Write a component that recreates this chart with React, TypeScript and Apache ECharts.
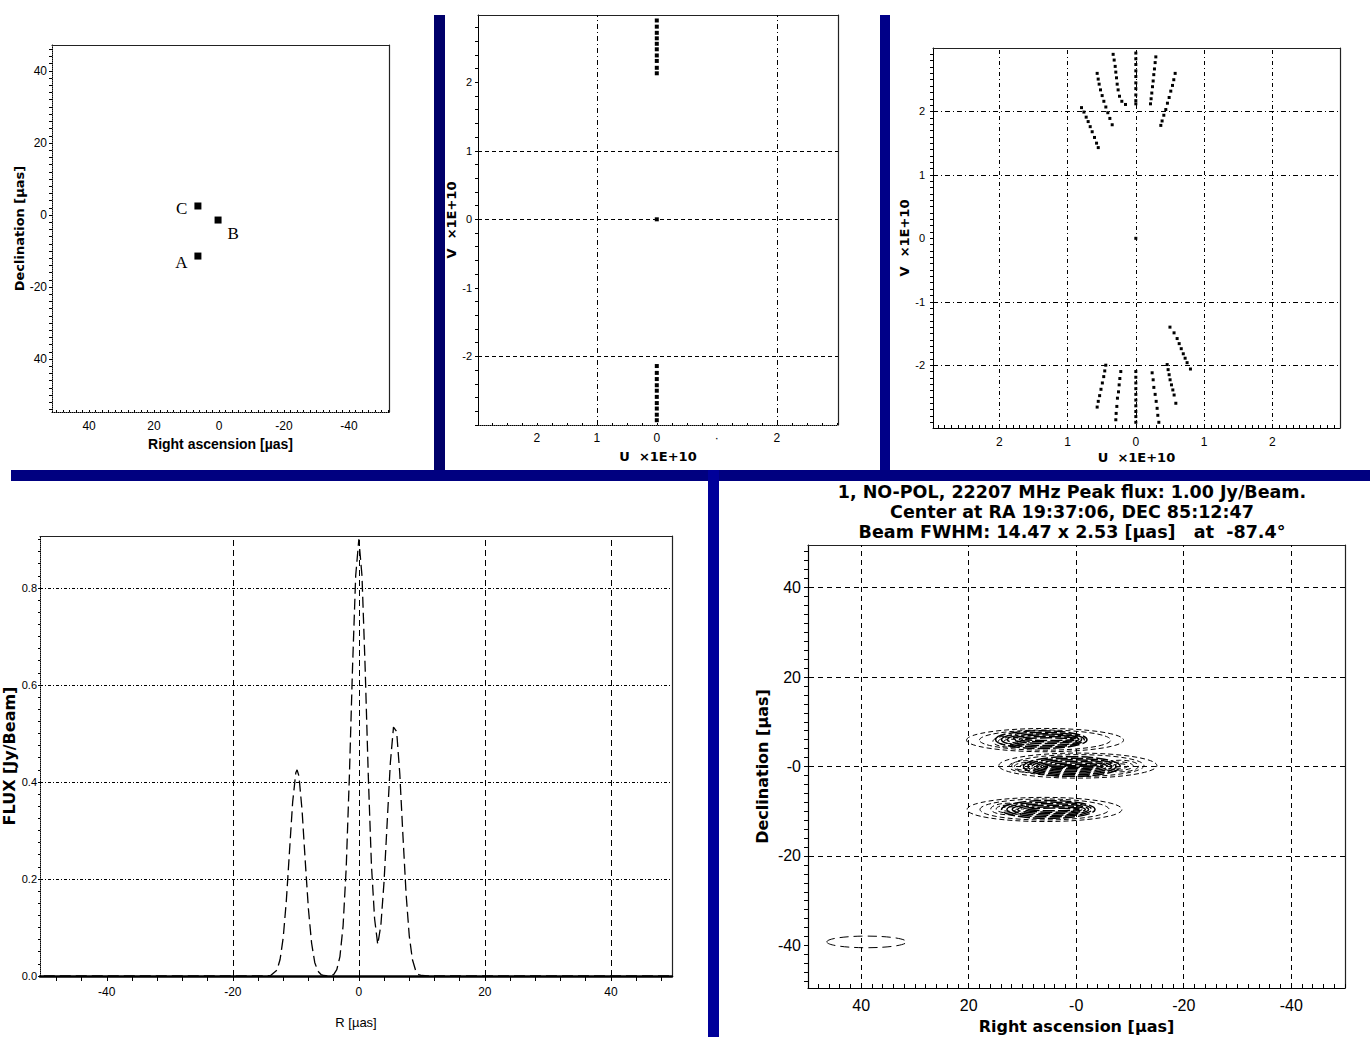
import React, { useEffect, useRef } from "react";
import * as echarts from "echarts";

// ---------------- data ----------------
// Panel 1: model components (RA, Dec in µas)
const MODEL_LABELS = ["C", "B", "A"];
const MODEL_RA = [6.5, 0.3, 6.5];
const MODEL_DEC = [2.5, -1.4, -11.4];

// Panel 2: snapshot uv coverage (U, V ×1E+10)
const SNAPSHOT_UV = [
  [0, 0],
  [0, 2.9], [0, 2.81], [0, 2.72], [0, 2.64], [0, 2.56], [0, 2.48], [0, 2.39], [0, 2.31], [0, 2.21], [0, 2.13],
  [0, -2.14], [0, -2.24], [0, -2.33], [0, -2.42], [0, -2.5], [0, -2.59], [0, -2.68], [0, -2.76], [0, -2.85], [0, -2.93],
];

// Panel 3: uv tracks
const TRACK_UA = [[-0.795, 2.06], [-0.76, 1.99], [-0.727, 1.91], [-0.698, 1.84], [-0.668, 1.76], [-0.639, 1.68], [-0.605, 1.59], [-0.575, 1.5], [-0.55, 1.43]];
const TRACK_UB = [[-0.566, 2.6], [-0.551, 2.51], [-0.537, 2.43], [-0.517, 2.34], [-0.493, 2.25], [-0.468, 2.16], [-0.439, 2.07], [-0.41, 1.98], [-0.38, 1.89], [-0.346, 1.79]];
const TRACK_UC = [[-0.332, 2.9], [-0.317, 2.81], [-0.302, 2.71], [-0.293, 2.62], [-0.283, 2.53], [-0.273, 2.43], [-0.259, 2.34], [-0.239, 2.24], [-0.205, 2.16], [-0.151, 2.11]];
const TRACK_UD = [[0, 2.92], [0, 2.83], [0, 2.74], [0, 2.64], [0, 2.55], [0, 2.45], [0, 2.36], [0, 2.26], [0, 2.17], [0, 2.12]];
const TRACK_UE = [[0.293, 2.86], [0.283, 2.77], [0.273, 2.67], [0.263, 2.58], [0.254, 2.48], [0.244, 2.39], [0.234, 2.29], [0.224, 2.2], [0.215, 2.12]];
const TRACK_UF = [[0.576, 2.6], [0.556, 2.5], [0.537, 2.41], [0.512, 2.32], [0.488, 2.22], [0.463, 2.13], [0.439, 2.03], [0.41, 1.94], [0.385, 1.85], [0.366, 1.78]];
const TRACK_CENTER = [[0, 0]];
const TRACK_LA = [[0.5, -1.4], [0.56, -1.49], [0.605, -1.58], [0.635, -1.66], [0.665, -1.74], [0.695, -1.82], [0.722, -1.89], [0.751, -1.96], [0.8, -2.06]];
const TRACK_LB = [[0.459, -1.99], [0.473, -2.07], [0.488, -2.15], [0.502, -2.23], [0.522, -2.31], [0.542, -2.39], [0.561, -2.47], [0.586, -2.6]];
const TRACK_LC = [[0.239, -2.12], [0.254, -2.23], [0.264, -2.35], [0.283, -2.46], [0.298, -2.57], [0.312, -2.68], [0.322, -2.79], [0.337, -2.9]];
const TRACK_LD = [[0, -2.1], [0, -2.19], [0, -2.28], [0, -2.37], [0, -2.46], [0, -2.55], [0, -2.64], [0, -2.73], [0, -2.81], [0, -2.9]];
const TRACK_LE = [[-0.22, -2.1], [-0.234, -2.21], [-0.244, -2.31], [-0.254, -2.42], [-0.269, -2.52], [-0.278, -2.65], [-0.288, -2.76], [-0.293, -2.86]];
const TRACK_LF = [[-0.44, -2.0], [-0.455, -2.09], [-0.47, -2.18], [-0.49, -2.28], [-0.51, -2.38], [-0.53, -2.48], [-0.55, -2.57], [-0.566, -2.66]];

// Panel 4: radial flux profile [R µas, flux Jy/Beam]
const PROFILE = [
  [-50, 0], [-15, 0], [-14, 0.001], [-13, 0.012], [-12.5, 0.034], [-12, 0.079], [-11.5, 0.156], [-11, 0.258],
  [-10.5, 0.359], [-10, 0.419], [-9.8, 0.425], [-9.5, 0.412], [-9, 0.34], [-8.5, 0.236], [-8, 0.138], [-7.5, 0.068],
  [-7, 0.028], [-6.5, 0.01], [-6, 0.003], [-5.5, 0.001], [-5, 0], [-4.5, 0.001], [-4, 0.003], [-3.5, 0.013],
  [-3, 0.04], [-2.5, 0.103], [-2, 0.224], [-1.5, 0.412], [-1, 0.636], [-0.5, 0.825], [0, 0.9], [0.5, 0.825],
  [1, 0.636], [1.5, 0.413], [2, 0.229], [2.5, 0.118], [3, 0.065], [3.5, 0.105], [4, 0.194], [4.5, 0.317],
  [5, 0.439], [5.5, 0.513], [6, 0.504], [6.5, 0.417], [7, 0.289], [7.5, 0.169], [8, 0.083], [8.5, 0.034],
  [9, 0.012], [9.5, 0.003], [10, 0.001], [11, 0], [50, 0],
];

// Panel 5: contour ellipses [RA, Dec, semi-axis RA, semi-axis Dec]
const CONTOURS_DASHED = [
  [5.8, 5.9, 14.6, 2.6], [5.8, 5.9, 12.2, 2.25],
  [12.1, 5.6, 3.4, 1.3], [12.1, 5.6, 2.4, 0.9], [12.1, 5.6, 1.4, 0.5],
  [-0.3, 0.2, 14.7, 2.8], [-0.3, 0.2, 12.3, 2.45],
  [9.1, 0.0, 3.4, 1.3], [9.1, 0.0, 2.4, 0.9], [9.1, 0.0, 1.4, 0.5],
  [-8.2, 0.1, 3.4, 1.3], [-8.2, 0.1, 2.4, 0.9], [-8.2, 0.1, 1.4, 0.5],
  [5.9, -9.6, 14.4, 2.7], [5.9, -9.6, 12.0, 2.35],
  [12.5, -9.5, 3.4, 1.3], [12.5, -9.5, 2.4, 0.9], [12.5, -9.5, 1.4, 0.5],
];
const CONTOURS_SOLID = [
  [6.5, 6.0, 8.5, 2.0], [6.2, 6.0, 7.7, 1.65], [5.9, 6.0, 6.9, 1.3], [5.6, 6.1, 6.1, 0.95], [5.3, 6.1, 5.3, 0.6], [5.0, 6.1, 4.5, 0.3],
  [0.8, 0.0, 9.0, 2.2], [0.8, 0.0, 8.2, 1.85], [0.8, 0.0, 7.4, 1.5], [0.8, 0.0, 6.6, 1.15], [0.8, 0.0, 5.8, 0.8], [0.8, 0.0, 5.0, 0.45], [0.8, 0.0, 4.2, 0.15],
  [5.2, -9.6, 8.7, 2.0], [5.0, -9.6, 7.9, 1.65], [4.8, -9.6, 7.1, 1.3], [4.6, -9.6, 6.3, 0.95], [4.4, -9.6, 5.5, 0.6], [4.2, -9.6, 4.7, 0.3],
];
const BEAM = [[39, -39.2, 7.4, 1.3]];

const TITLE_LINES = [
  "1, NO-POL, 22207 MHz Peak flux: 1.00 Jy/Beam.",
  "Center at RA 19:37:06, DEC 85:12:47",
  "Beam FWHM: 14.47 x 2.53 [µas]   at  -87.4°",
];

// tick labels
const P1_X_TICKS = [40, 20, 0, -20, -40];
const P1_X_LABELS = ["40", "20", "0", "-20", "-40"];
const P1_Y_TICKS = [40, 20, 0, -20, -40];
const P1_Y_LABELS = ["40", "20", "0", "-20", "40"];
const UV_X_TICKS = [-2, -1, 0, 1, 2];
const P2_X_LABELS = ["2", "1", "0", "·", "2"];
const UV_Y_TICKS = [2, 1, 0, -1, -2];
const P2_Y_LABELS = ["2", "1", "0", "-1", "-2"];
const P3_X_LABELS = ["2", "1", "0", "1", "2"];
const P3_Y_LABELS = ["2", "1", "0", "-1", "-2"];
const P4_X_TICKS = [-40, -20, 0, 20, 40];
const P4_X_LABELS = ["-40", "-20", "0", "20", "40"];
const P4_Y_TICKS = [0.8, 0.6, 0.4, 0.2, 0];
const P4_Y_LABELS = ["0.8", "0.6", "0.4", "0.2", "0.0"];
const P5_X_TICKS = [40, 20, 0, -20, -40];
const P5_X_LABELS = ["40", "20", "-0", "-20", "-40"];
const P5_Y_TICKS = [40, 20, 0, -20, -40];
const P5_Y_LABELS = ["40", "20", "-0", "-20", "-40"];

// grid lines
const P2_GRID_U = [-1, 2];
const P2_GRID_V = [1, 0, -2];
const P3_GRID_U = [-2, -1, 0, 1, 2];
const P3_GRID_V = [2, 1, -1, -2];
const P4_GRID_R = [-20, 0, 20, 40];
const P4_GRID_F = [0.8, 0.6, 0.4, 0.2];
const P5_GRID_RA = [40, 20, 0, -20, -40];
const P5_GRID_DEC = [40, 20, 0, -20];

// ---------------- helpers ----------------
const FONT = '"Liberation Sans", Arial, sans-serif';
const NARROW = '"Liberation Sans Narrow", "Liberation Sans", Arial, sans-serif';
const WIDE = '"DejaVu Sans", Verdana, sans-serif';

function steps(a: number, b: number, s: number) {
  const out: number[] = [];
  for (let v = a; v <= b + 1e-9; v += s) out.push(+v.toFixed(4));
  return out;
}

function labelFmt(vals: number[], texts: string[]) {
  return (v: number) => {
    for (let i = 0; i < vals.length; i++) if (Math.abs(vals[i] - v) < 1e-6) return texts[i];
    return "";
  };
}

function mainAxis(kind: "x" | "y", gridIndex: number, min: number, max: number, o: any) {
  return {
    type: "value",
    gridIndex,
    min,
    max,
    inverse: !!o.inverse,
    position: kind === "x" ? "bottom" : "left",
    name: o.name,
    nameLocation: "middle",
    nameGap: o.nameGap,
    nameTextStyle: Object.assign({ color: "#000", fontFamily: FONT, fontWeight: "bold", fontSize: 14 }, o.nameStyle || {}),
    splitLine: { show: false },
    axisLine: { show: true, onZero: false, lineStyle: { color: "#000", width: o.lineWidth ?? 1, type: o.lineType ?? "solid" } },
    axisTick: { show: true, customValues: o.ticks, length: o.tickLen ?? 3, inside: !!o.tickInside, lineStyle: { color: "#000", width: 1 } },
    axisLabel: {
      show: true,
      customValues: o.labelVals,
      formatter: labelFmt(o.labelVals, o.labels),
      margin: o.margin,
      color: "#000",
      fontSize: o.fontSize ?? 12,
      fontFamily: o.fontFamily ?? FONT,
    },
  };
}

function frameAxis(kind: "x" | "y", gridIndex: number, min: number, max: number, inverse = false) {
  return {
    type: "value",
    gridIndex,
    min,
    max,
    inverse,
    position: kind === "x" ? "top" : "right",
    axisLine: { show: true, onZero: false, lineStyle: { color: "#222", width: 1.2 } },
    axisTick: { show: false },
    axisLabel: { show: false },
    splitLine: { show: false },
  };
}

function gridLines(xs: number[], ys: number[], xDash: number[], yDash: number[]) {
  return {
    silent: true,
    symbol: ["none", "none"],
    label: { show: false },
    animation: false,
    lineStyle: { color: "#000", width: 1 },
    data: [
      ...xs.map((v) => ({ xAxis: v, lineStyle: { color: "#000", width: 1, type: xDash } })),
      ...ys.map((v) => ({ yAxis: v, lineStyle: { color: "#000", width: 1, type: yDash } })),
    ],
  };
}

function ellipseRenderer(lineDash: any, lineWidth: number) {
  return (params: any, api: any) => {
    const c = api.coord([api.value(0), api.value(1)]);
    const s = api.size([api.value(2), api.value(3)]);
    return {
      type: "ellipse",
      shape: { cx: c[0], cy: c[1], rx: s[0], ry: s[1] },
      style: { fill: "none", stroke: "#000", lineWidth, lineDash },
    };
  };
}

// ranges
const P1 = { xmin: -52.3, xmax: 51.4, ymin: -54.7, ymax: 47.2 };
const P2 = { xmin: -2.98, xmax: 3.02, ymin: -3.0, ymax: 2.98 };
const P3 = { xmin: -2.97, xmax: 2.99, ymin: -2.99, ymax: 3.0 };
const P4 = { xmin: -50.6, xmax: 49.7, ymin: 0, ymax: 0.907 };
const P5 = { xmin: -50, xmax: 49.9, ymin: -49.5, ymax: 49.5 };

function buildOption() {
  const grids = [
    { left: 52, top: 45, width: 337, height: 367 },
    { left: 478, top: 15, width: 360, height: 410 },
    { left: 933, top: 48, width: 407, height: 380 },
    { left: 40, top: 536, width: 632, height: 440 },
    { left: 808, top: 545, width: 537, height: 443 },
  ].map((g) => Object.assign({ containLabel: false, show: false }, g));

  const xAxes = [
    mainAxis("x", 0, P1.xmin, P1.xmax, {
      inverse: true, name: "Right ascension [µas]", nameGap: 25, nameStyle: { fontSize: 14, fontFamily: NARROW },
      ticks: steps(-52, 50, 2), tickInside: true, tickLen: 2, labelVals: P1_X_TICKS, labels: P1_X_LABELS, margin: 8, lineType: "dotted",
    }),
    mainAxis("x", 1, P2.xmin, P2.xmax, {
      name: "U  ×1E+10", nameGap: 25, nameStyle: { fontSize: 13, fontFamily: WIDE },
      ticks: steps(-2.75, 3, 0.25), tickInside: true, tickLen: 2, labelVals: UV_X_TICKS, labels: P2_X_LABELS, margin: 7, lineType: "dotted",
    }),
    mainAxis("x", 2, P3.xmin, P3.xmax, {
      name: "U  ×1E+10", nameGap: 23, nameStyle: { fontSize: 13, fontFamily: WIDE },
      ticks: steps(-2.9, 2.9, 0.1), tickInside: true, tickLen: 3, labelVals: UV_X_TICKS, labels: P3_X_LABELS, margin: 8,
    }),
    mainAxis("x", 3, P4.xmin, P4.xmax, {
      name: "R [µas]", nameGap: 40, nameStyle: { fontSize: 13, fontWeight: "normal", fontFamily: NARROW },
      ticks: steps(-48, 48, 4), tickLen: 5, labelVals: P4_X_TICKS, labels: P4_X_LABELS, margin: 10, lineWidth: 2.5, fontFamily: NARROW,
    }),
    mainAxis("x", 4, P5.xmin, P5.xmax, {
      inverse: true, name: "Right ascension [µas]", nameGap: 30, nameStyle: { fontSize: 16, fontFamily: WIDE },
      ticks: steps(-50, 48, 2), tickInside: true, tickLen: 4, labelVals: P5_X_TICKS, labels: P5_X_LABELS, margin: 9, fontSize: 16, lineWidth: 1.2,
    }),
    frameAxis("x", 0, P1.xmin, P1.xmax, true),
    frameAxis("x", 1, P2.xmin, P2.xmax),
    frameAxis("x", 2, P3.xmin, P3.xmax),
    frameAxis("x", 3, P4.xmin, P4.xmax),
    frameAxis("x", 4, P5.xmin, P5.xmax, true),
  ];

  const yAxes = [
    mainAxis("y", 0, P1.ymin, P1.ymax, {
      name: "Declination [µas]", nameGap: 26, nameStyle: { fontSize: 13, fontFamily: WIDE },
      ticks: steps(-54, 46, 2), tickLen: 3, labelVals: P1_Y_TICKS, labels: P1_Y_LABELS, margin: 5, lineType: "dotted", fontFamily: NARROW,
    }),
    mainAxis("y", 1, P2.ymin, P2.ymax, {
      name: "V  ×1E+10", nameGap: 18, nameStyle: { fontSize: 13, fontFamily: WIDE },
      ticks: steps(-3, 2.8, 0.2), tickLen: 3, labelVals: UV_Y_TICKS, labels: P2_Y_LABELS, margin: 6, fontSize: 11,
    }),
    mainAxis("y", 2, P3.ymin, P3.ymax, {
      name: "V  ×1E+10", nameGap: 21, nameStyle: { fontSize: 13, fontFamily: WIDE },
      ticks: steps(-2.9, 2.9, 0.1), tickLen: 3, labelVals: UV_Y_TICKS, labels: P3_Y_LABELS, margin: 8, fontSize: 11,
    }),
    mainAxis("y", 3, P4.ymin, P4.ymax, {
      name: "FLUX [Jy/Beam]", nameGap: 13, nameStyle: { fontSize: 16, fontFamily: WIDE },
      ticks: steps(0, 0.9, 0.025), tickLen: 2, labelVals: P4_Y_TICKS, labels: P4_Y_LABELS, margin: 3, lineType: "dotted", fontFamily: NARROW, fontSize: 11,
    }),
    mainAxis("y", 4, P5.ymin, P5.ymax, {
      name: "Declination [µas]", nameGap: 38, nameStyle: { fontSize: 16, fontFamily: WIDE },
      ticks: steps(-48, 48, 2), tickLen: 4, labelVals: P5_Y_TICKS, labels: P5_Y_LABELS, margin: 7, fontSize: 16, lineWidth: 1.2,
    }),
    frameAxis("y", 0, P1.ymin, P1.ymax),
    frameAxis("y", 1, P2.ymin, P2.ymax),
    frameAxis("y", 2, P3.ymin, P3.ymax),
    frameAxis("y", 3, P4.ymin, P4.ymax),
    frameAxis("y", 4, P5.ymin, P5.ymax),
  ];

  const labelPos: Record<string, any> = {
    C: { position: "left", distance: 7, offset: [0, 3] },
    B: { position: "right", distance: 6, offset: [0, 13] },
    A: { position: "left", distance: 7, offset: [0, 6] },
  };

  const uvTracks = [
    ...TRACK_UA, ...TRACK_UB, ...TRACK_UC, ...TRACK_UD, ...TRACK_UE, ...TRACK_UF, ...TRACK_CENTER,
    ...TRACK_LA, ...TRACK_LB, ...TRACK_LC, ...TRACK_LD, ...TRACK_LE, ...TRACK_LF,
  ];

  const series: any[] = [
    {
      type: "scatter",
      xAxisIndex: 0,
      yAxisIndex: 0,
      symbol: "rect",
      symbolSize: 7,
      itemStyle: { color: "#000", opacity: 1 },
      data: MODEL_LABELS.map((n, i) => ({
        name: n,
        value: [MODEL_RA[i], MODEL_DEC[i]],
        label: Object.assign(
          { show: true, formatter: n, color: "#000", fontSize: 17, fontFamily: '"Liberation Serif", "DejaVu Serif", serif' },
          labelPos[n]
        ),
      })),
    },
    {
      type: "scatter",
      xAxisIndex: 1,
      yAxisIndex: 1,
      symbol: "rect",
      symbolSize: 4,
      itemStyle: { color: "#000", opacity: 1 },
      data: SNAPSHOT_UV,
      markLine: gridLines(P2_GRID_U, P2_GRID_V, [5, 3, 1, 3], [4, 3]),
    },
    {
      type: "scatter",
      xAxisIndex: 2,
      yAxisIndex: 2,
      symbol: "rect",
      symbolSize: 3,
      itemStyle: { color: "#000", opacity: 1 },
      data: uvTracks,
      markLine: gridLines(P3_GRID_U, P3_GRID_V, [4, 3, 1, 3], [5, 3, 1, 3]),
    },
    {
      type: "line",
      xAxisIndex: 3,
      yAxisIndex: 3,
      showSymbol: false,
      smooth: false,
      lineStyle: { color: "#000", width: 1.3, type: [11, 5] },
      data: PROFILE,
      markLine: gridLines(P4_GRID_R, P4_GRID_F, [6, 4], [3, 2, 1, 2]),
    },
    {
      type: "scatter",
      xAxisIndex: 4,
      yAxisIndex: 4,
      symbolSize: 0,
      data: [],
      markLine: gridLines(P5_GRID_RA, P5_GRID_DEC, [5, 4], [5, 4]),
    },
    {
      type: "custom",
      xAxisIndex: 4,
      yAxisIndex: 4,
      renderItem: ellipseRenderer([5, 3], 1),
      data: CONTOURS_DASHED,
      z: 5,
    },
    {
      type: "custom",
      xAxisIndex: 4,
      yAxisIndex: 4,
      renderItem: ellipseRenderer([12, 3], 1.5),
      data: CONTOURS_SOLID,
      z: 6,
    },
    {
      type: "custom",
      xAxisIndex: 4,
      yAxisIndex: 4,
      renderItem: ellipseRenderer([9, 5], 1),
      data: BEAM,
      z: 5,
    },
  ];

  const bars = [
    { x: 434, y: 15, w: 11, h: 456, c: "#00006a" },
    { x: 880, y: 15, w: 10, h: 456, c: "#000088" },
    { x: 11, y: 470, w: 1359, h: 11, c: "#000080" },
    { x: 708, y: 470, w: 11, h: 567, c: "#00009a" },
  ];

  const graphic: any[] = [
    ...bars.map((b) => ({
      type: "rect",
      shape: { x: b.x, y: b.y, width: b.w, height: b.h },
      style: { fill: b.c },
      silent: true,
      z: 100,
    })),
    ...TITLE_LINES.map((t, i) => ({
      type: "text",
      x: 1072,
      y: 492 + i * 20,
      style: {
        text: t,
        font: 'bold 17.5px "DejaVu Sans", Verdana, sans-serif',
        fill: "#000",
        textAlign: "center",
        textVerticalAlign: "middle",
        align: "center",
        verticalAlign: "middle",
      },
      silent: true,
    })),
  ];

  return {
    animation: false,
    backgroundColor: "#ffffff",
    grid: grids,
    xAxis: xAxes,
    yAxis: yAxes,
    series,
    graphic,
  };
}

export default function App() {
  const ref = useRef<HTMLDivElement | null>(null);
  useEffect(() => {
    if (!ref.current) return;
    const chart = echarts.init(ref.current, null, { renderer: "svg" });
    chart.setOption(buildOption() as any);
    return () => chart.dispose();
  }, []);
  return (
    <div
      ref={ref}
      style={{ position: "absolute", left: 0, top: 0, width: 1370, height: 1037, background: "#fff" }}
    />
  );
}
